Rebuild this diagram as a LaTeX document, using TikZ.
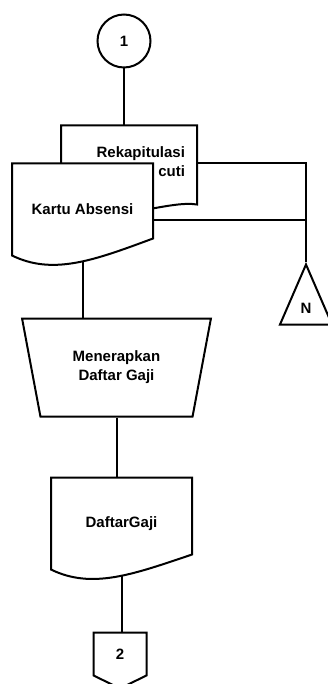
\documentclass[tikz,border=0pt]{standalone}
\usepackage{fontspec}
\setmainfont{Liberation Sans}
\usetikzlibrary{positioning, backgrounds, calc, shapes.geometric, shapes.symbols}

% document symbol: straight top and sides, wavy bottom edge
\newcommand{\docoutline}[2]{%
  \draw[fill=white] (#1.south west) -- (#1.north west) -- (#1.north east)
    -- ($(#1.south east)+(0,-#2)$)
    .. controls ($(#1.south west)!0.58!(#1.south east)+(0,5)$)
    and ($(#1.south west)!0.29!(#1.south east)+(0,20)$) .. (#1.south west) -- cycle;
}

\begin{document}
\begin{tikzpicture}[%
    x=1pt, y=-1pt,
    font=\fontsize{15}{19}\selectfont\bfseries,
    line width=2pt,
    every on background layer/.style={line width=2pt},
    % Shapes
    doc/.style={rectangle, minimum width=139pt, minimum height=90pt, align=center},
    conn/.style={circle, draw, fill=white, minimum size=53pt, inner sep=0pt},
    proc/.style={trapezium, draw, fill=white, trapezium angle=106,
        trapezium stretches=true, minimum width=189pt, minimum height=98pt, align=center},
    offpage/.style={signal, draw, fill=white, signal to=south, signal from=nowhere,
        signal pointer angle=128, minimum width=53pt, minimum height=45pt, inner sep=0pt},
    store/.style={isosceles triangle, draw, fill=white, shape border rotate=90,
        isosceles triangle apex angle=47, isosceles triangle stretches,
        minimum width=52pt, minimum height=60pt, inner sep=0pt}
]
\useasboundingbox (0,0) rectangle (328,684);

% --- Input documents ---
\node[conn] (c1) at (124,41) {1};
\node[doc, minimum width=134pt, minimum height=70pt, text width=112pt, align=right,
    inner xsep=11pt, below=57pt of c1, xshift=5pt] (rekap) {Rekapitulasi\\cuti};
\node[doc, anchor=north west] (kartu) at ($(rekap.north west)+(-49,38)$) {Kartu Absensi};

% --- Archive ---
\node[store, anchor=apex] (tri) at (306,262) {N};

% --- Process and output ---
\node[proc, below=62pt of kartu, xshift=34pt] (trap) {Menerapkan\\Daftar Gaji};
\node[doc, below=60pt of trap, xshift=5pt] (daftar) {DaftarGaji};
\node[offpage, below=62pt of daftar, xshift=-1.5pt] (c2) {2};

\begin{scope}[on background layer]
    % Connections
    \draw (c1) -- (c1 |- rekap.north);
    \draw (rekap.east |- kartu.north) -| (tri.apex);
    \coordinate (kout) at ($(kartu.north east)+(0,57)$);
    \draw (kout) -- (kout -| tri.apex);
    \draw (kartu.south) -- (kartu.south |- trap.north);
    \draw (trap.south) -- (trap.south |- daftar.north);
    \draw (daftar.south) -- (daftar.south |- c2.north);

    % Document outlines (back to front)
    \draw[fill=white] ($(rekap.south west)+(0,23)$) -- (rekap.north west) -- (rekap.north east)
        -- ($(rekap.south east)+(0,7)$)
        .. controls ($(rekap.south east)+(-25,3)$) and ($(rekap.south)+(0,20)$)
        .. ($(rekap.south west)+(0,23)$) -- cycle;
    \docoutline{kartu}{17}
    \docoutline{daftar}{15}
\end{scope}

\end{tikzpicture}
\end{document}
